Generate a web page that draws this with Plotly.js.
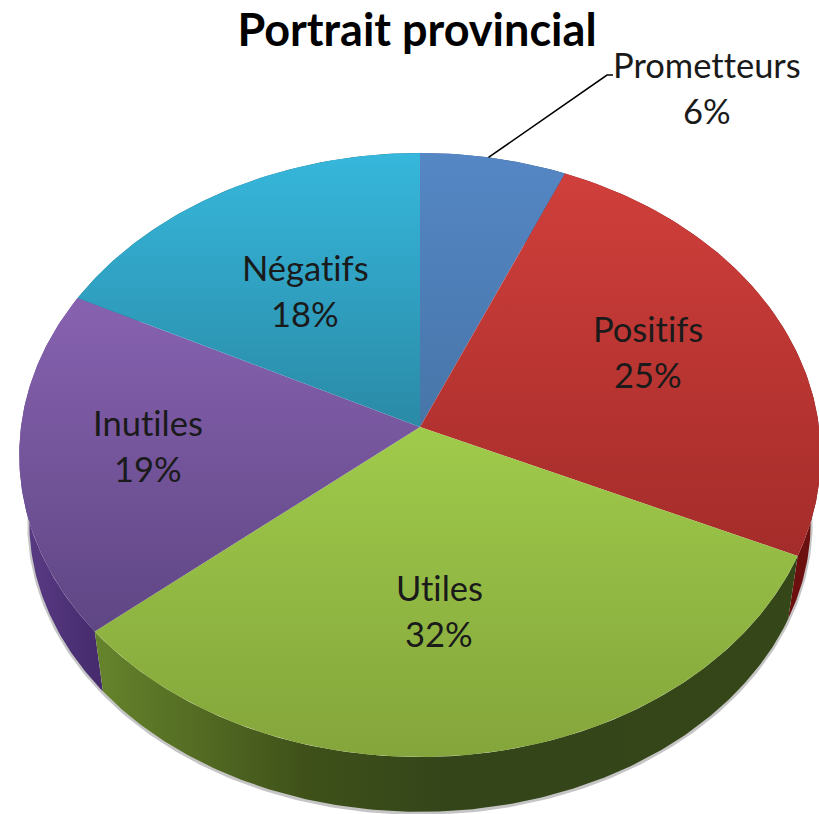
<!DOCTYPE html>
<html><head><meta charset="utf-8">
<script src="https://cdn.plot.ly/plotly-3.0.1.min.js"></script>
<style>html,body{margin:0;padding:0;background:#fff}#c{width:819px;height:814px}svg text{font-variant-ligatures:none;font-feature-settings:"liga" 0}</style>
</head><body><div id="c"></div>
<script>
const chartTitle = "Portrait provincial";
const categories = ["Prometteurs", "Positifs", "Utiles", "Inutiles", "Négatifs"];
const shares = [6.45, 25.35, 32.1, 18.5, 17.6];
const faceTop = ["#5587c5", "#d03f3b", "#9fcb4b", "#8762b0", "#36b7dc"];
const faceBottom = ["#4675a8", "#a42c2a", "#84a53b", "#5f4684", "#2a8aa6"];
const wallEdge = ["#3a5f8c", "#7f1414", "#66842c", "#5a3c86", "#1f6f88"];
const wallMid = ["#2f4f78", "#6a0f0f", "#33441a", "#452a6c", "#1a5c72"];
const labelX = [707, 648, 439, 148, 305];
const labelY = [87, 351, 610, 445, 290];

// perspective disc geometry
const CX = 420, CY = 427, R = 399, H = 299.4, K = 0.0927, WX = 0.975, WY = 0.96, WD = 68;
function rim(deg) {
  const t = deg * Math.PI / 180, w = 1 + K * Math.cos(t);
  return [R * Math.sin(t) / w, -H * Math.cos(t) / w];
}
function arc(a, b, fn) {
  const pts = [], n = Math.max(2, Math.ceil((b - a) * 1.5));
  for (let i = 0; i <= n; i++) { const p = rim(a + (b - a) * i / n); pts.push(fn(p)); }
  return pts;
}
const top_ = p => [CX + p[0], CY + p[1]];
const bot_ = p => [CX + p[0] * WX, CY + p[1] * WY + WD];

let cum = 0;
const angles = shares.map(s => { const a = cum * 3.6; cum += s; return [a, cum * 3.6]; });
const traces = [];

// soft shadow below the rim
const shadow = arc(0, 360, bot_);
traces.push({type:"scatter", mode:"lines", x:shadow.map(p=>p[0]), y:shadow.map(p=>p[1]+1),
  line:{color:"rgba(90,90,90,0.35)", width:4}, hoverinfo:"skip", showlegend:false});

// side walls, painted back to front
[4,0,3,1,2].forEach(i => {
  const [a,b] = angles[i];
  const up = arc(a,b,top_), dn = arc(a,b,bot_).reverse(), poly = up.concat(dn);
  const xs = poly.map(p=>p[0]);
  const lo = Math.min(...xs), hi = Math.max(...xs), span = hi-lo;
  const scale = i === 2
    ? [[0,"#66842c"],[0.3,"#3f5119"],[0.5,"#34451a"],[1,"#354618"]]
    : [[0,wallEdge[i]],[1,wallMid[i]]];
  traces.push({type:"scatter", mode:"lines", name:categories[i]+" (côté)",
    x:xs, y:poly.map(p=>p[1]), fill:"toself", line:{width:0,color:wallMid[i]},
    fillgradient:{type:"horizontal", start:lo, stop:lo+span, colorscale:scale},
    hoverinfo:"skip", showlegend:false});
});

// top faces
categories.forEach((name,i) => {
  const [a,b] = angles[i];
  const poly = [[CX,CY]].concat(arc(a,b,top_)); poly.push([CX,CY]);
  const ys = poly.map(p=>p[1]);
  traces.push({type:"scatter", mode:"lines", name:name,
    x:poly.map(p=>p[0]), y:ys, fill:"toself", line:{width:0,color:faceTop[i]},
    fillgradient:{type:"vertical", start:Math.min(...ys), stop:Math.max(...ys),
      colorscale:[[0,faceTop[i]],[1,faceBottom[i]]]},
    text:name+" "+Math.round(shares[i])+"%", hoverinfo:"text", showlegend:false});
});

// leader line for the outside label
const lead = top_(rim(angles[0][0] + (angles[0][1]-angles[0][0])*0.465));
traces.push({type:"scatter", mode:"lines", x:[lead[0],607,613], y:[lead[1],75,75],
  line:{color:"#000",width:1.6}, hoverinfo:"skip", showlegend:false});

const annotations = [];
categories.forEach((name,i) => {
  const f = {family:"Lato, Carlito, sans-serif", size:34.5, color:"#1a1a1a"};
  annotations.push({x:labelX[i], y:labelY[i]-23, xref:"x", yref:"y", text:name, showarrow:false, font:f, xanchor:"center", yanchor:"middle"});
  annotations.push({x:labelX[i], y:labelY[i]+23, xref:"x", yref:"y", text:Math.round(shares[i])+"%", showarrow:false, font:f, xanchor:"center", yanchor:"middle"});
});

Plotly.newPlot("c", traces, {
  width:819, height:814, margin:{l:0,r:0,t:0,b:0}, paper_bgcolor:"#fff", plot_bgcolor:"#fff",
  title:{text:"<b>"+chartTitle+"</b>", x:417/819, xanchor:"center", y:1-30/814, yanchor:"middle",
    font:{family:"Lato, Carlito, sans-serif", size:45, color:"#000"}},
  xaxis:{range:[0,819], visible:false, fixedrange:true},
  yaxis:{range:[814,0], visible:false, fixedrange:true},
  annotations, showlegend:false
}, {displayModeBar:false});
</script></body></html>
